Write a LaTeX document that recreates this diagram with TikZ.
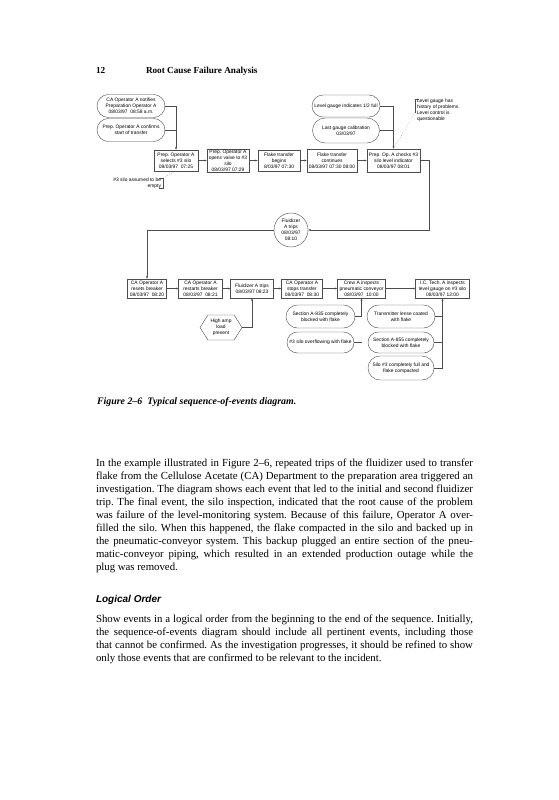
\documentclass[tikz,border=0pt]{standalone}
\usepackage{fontspec}
\setmainfont{Liberation Serif}
\setsansfont{Liberation Sans}
\newfontfamily\diagfont{Liberation Sans}
\usetikzlibrary{positioning,arrows.meta,shapes.misc,shapes.symbols}
\frenchspacing

\newcommand\dfont{\diagfont\fontsize{4.9}{6}\selectfont}
\newcommand\bodyfont{\fontsize{10.8}{13.05}\selectfont}
\newcommand\fline[1]{\makebox[377pt][s]{#1}}

\begin{document}
\begin{tikzpicture}[
  x=1pt, y=-1pt,
  every node/.style={inner sep=0pt, outer sep=0pt},
  evbox/.style={draw=black!70, line width=0.4pt, font=\dfont, align=center, minimum height=21pt},
  condnode/.style={draw=black!70, line width=0.4pt, rounded rectangle, font=\dfont, align=center, minimum width=68pt, minimum height=23pt},
  notetext/.style={font=\dfont},
  link/.style={draw=black!70, line width=0.4pt},
  arrow/.style={link, -{Latex[length=2.6pt,width=2pt]}},
  hint/.style={draw=black!60, line width=0.4pt, dotted}
]
\fill[white] (0,0) rectangle (559,800);
\useasboundingbox (0,0) rectangle (559,800);

% running head
\node[anchor=base west, font=\bfseries\fontsize{9.2}{11}\selectfont] (pageno) at (96,74) {12};
\node[anchor=base west, font=\bfseries\fontsize{9.2}{11}\selectfont] (runhead) at (146,74) {Root Cause Failure Analysis};

% top row of events
\node[evbox, minimum width=44pt] (selects) at (176,160.5) {Prep. Operator A\\selects \#3 silo\\08/03/97\ \ 07:25};
\node[evbox, minimum width=42pt, minimum height=23pt, right=9pt of selects] (opens) {Prep. Operator A\\opens valve to \#3\\silo\\08/03/97 07:29};
\node[evbox, minimum width=42pt, right=9pt of opens] (begins) {Flake transfer\\begins\\8/03/97 07:30};
\node[evbox, minimum width=50pt, minimum height=23pt, right=7pt of begins] (continues) {Flake transfer\\continues\\08/03/97 07:30 08:00};
\node[evbox, minimum width=53pt, minimum height=23pt, right=10pt of continues] (checks) {Prep. Op. A checks \#3\\silo level indicator\\08/03/97 08:01};

% conditions above the top row
\node[condnode] (notifies) at (131,106) {CA Operator A notifies\\Preparation Operator A\\08/03/97\ \ 08:58 a.m.};
\node[condnode, below=1pt of notifies] (confirms) {Prep. Operator A confirms\\start of transfer};
\node[condnode, minimum height=22pt] (halffull) at (346,106) {Level gauge indicates 1/2 full};
\node[condnode, minimum width=67pt, minimum height=25pt, below=1pt of halffull] (calib) {Last gauge calibration\\03/03/97};

% side notes
\node[notetext, align=right, anchor=north east] (emptynote) at (161,178) {\#3 silo assumed to be\\empty};
\node[notetext, align=left, anchor=north west] (gaugenote) at (417,99) {Level gauge has\\history of problems.\\Level control is\\questionable};

% first trip
\node[draw=black!70, line width=0.4pt, circle, minimum size=34pt, font=\dfont, align=center] (trip1) at (291,230) {Fluidizer\\A trips\\08/03/97\\08:10};

% bottom row of events
\node[evbox, minimum width=39pt, minimum height=19pt] (resets) at (147,288.5) {CA Operator A\\resets breaker\\08/03/97\ \ 08:20};
\node[evbox, minimum width=44pt, minimum height=19pt, right=12pt of resets] (restarts) {CA Operator A\\restarts breaker\\08/03/97\ \ 08:21};
\node[evbox, minimum width=43pt, minimum height=19pt, right=8pt of restarts] (trip2) {Fluidizer A trips\\08/03/97 08:23};
\node[evbox, minimum width=41pt, minimum height=19pt, right=8pt of trip2] (stops) {CA Operator A\\stops transfer\\08/03/97\ \ 08:30};
\node[evbox, minimum width=48pt, minimum height=19pt, right=15pt of stops] (inspects) {Crew A inspects\\pneumatic conveyor\\08/03/97\ \ 10:00};
\node[evbox, minimum width=54pt, minimum height=19pt, right=30pt of inspects] (gaugecheck) {I.C. Tech. A inspects\\level gauge on \#3 silo\\08/03/97 12:00};

% conditions below the bottom row
\node[draw=black!70, line width=0.4pt, signal, signal to=west and east, signal pointer angle=115, minimum width=42pt, minimum height=25pt, font=\dfont, align=center] (highamp) at (221,327.5) {High amp\\load\\present};
\node[condnode, minimum width=69pt] (blocked835) at (320.5,316.5) {Section A-835 completely\\blocked with flake};
\node[condnode, minimum width=67pt, minimum height=21pt, below=4pt of blocked835] (overflow) {\#3 silo overflowing with flake};
\node[condnode] (lense) at (401,316.5) {Transmitter lense coated\\with flake};
\node[condnode, minimum width=66pt, minimum height=21pt, below=4pt of lense] (blocked855) {Section A-855 completely\\blocked with flake};
\node[condnode, minimum width=66pt, minimum height=24pt, below=3pt of blocked855] (siloful) {Silo \#3 completely full and\\flake compacted};

% connectors, top part
\draw[arrow] (notifies.east) -| (selects.north);
\draw[link] (confirms.east) -- (confirms.east -| selects.north);
\draw[arrow] (selects) -- (opens);
\draw[arrow] (opens) -- (begins);
\draw[arrow] (begins) -- (continues);
\draw[arrow] (continues) -- (checks);
\draw[arrow] (halffull.east) -| (checks.north);
\draw[link] (calib.east) -- (calib.east -| checks.north);
\draw[link] ([xshift=2pt]gaugenote.north west) -- ([xshift=-2pt]gaugenote.north west) -- ([xshift=-2pt,yshift=9pt]gaugenote.south west);
\draw[hint] ([xshift=-2pt,yshift=9pt]gaugenote.south west) -- (checks.north);
\draw[link] ([xshift=-2pt]emptynote.north east) -- ([xshift=2pt]emptynote.north east) -- ([xshift=2pt]emptynote.south east) -- ([xshift=-2pt]emptynote.south east);
\draw[hint] ([xshift=2pt]emptynote.north east) -- (selects.south);
\draw[arrow] (checks.east) -- ++(9,0) |- (trip1.east);
\draw[arrow] (trip1.west) -| (resets.north);

% connectors, bottom part
\draw[arrow] (resets) -- (restarts);
\draw[arrow] (restarts) -- (trip2);
\draw[arrow] (trip2) -- (stops);
\draw[arrow] (stops) -- (inspects);
\draw[arrow] (inspects) -- (gaugecheck);
\draw[arrow] (highamp.east) -| (trip2.south);
\draw[arrow] (blocked835.east) -| (inspects.south);
\draw[link] (overflow.east) -- (overflow.east -| inspects.south);
\draw[arrow] (siloful.east) -| (gaugecheck.south);
\draw[link] (lense.east) -- (lense.east -| gaugecheck.south);
\draw[link] (blocked855.east) -- (blocked855.east -| gaugecheck.south);

% caption and running text
\node[anchor=base west, font=\bfseries\itshape\fontsize{9.9}{12}\selectfont] (caption) at (97,404) {Figure 2--6\ \ Typical sequence-of-events diagram.};

\node[anchor=north west, align=left, font=\bodyfont] (para1) at (96,457) {%
\fline{\strut In the example illustrated in Figure 2--6, repeated trips of the fluidizer used to transfer}\\
\fline{flake from the Cellulose Acetate (CA) Department to the preparation area triggered an}\\
\fline{investigation. The diagram shows each event that led to the initial and second fluidizer}\\
\fline{trip. The final event, the silo inspection, indicated that the root cause of the problem}\\
\fline{was failure of the level-monitoring system. Because of this failure, Operator A over-}\\
\fline{filled the silo. When this happened, the flake compacted in the silo and backed up in}\\
\fline{the pneumatic-conveyor system. This backup plugged an entire section of the pneu-}\\
\fline{matic-conveyor piping, which resulted in an extended production outage while the}\\
plug was removed.};

\node[anchor=base west, font=\sffamily\bfseries\itshape\fontsize{10}{12}\selectfont] (heading) at (96,602) {Logical Order};

\node[anchor=north west, align=left, font=\bodyfont] (para2) at (96,613) {%
\fline{\strut Show events in a logical order from the beginning to the end of the sequence. Initially,}\\
\fline{the sequence-of-events diagram should include all pertinent events, including those}\\
\fline{that cannot be confirmed. As the investigation progresses, it should be refined to show}\\
only those events that are confirmed to be relevant to the incident.};
\end{tikzpicture}
\end{document}
